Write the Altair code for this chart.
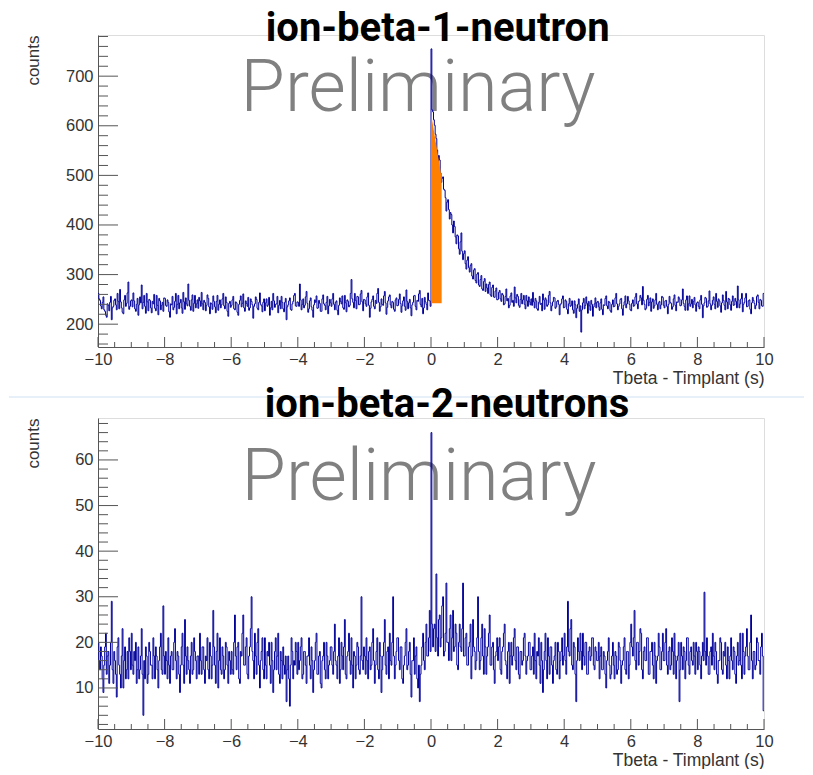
import altair as alt
import pandas as pd

BIN_WIDTH = 0.025
X_MIN, X_MAX = -10.0, 10.0

# ion-beta-1-neutron histogram, 800 bins of 0.025 s from -10 to 10 s
top_counts = [
    262, 251, 248, 237, 231, 244, 255, 229, 226, 218, 214, 241, 238, 227, 244, 256, 209, 233, 236, 248,
    251, 239, 229, 262, 246, 231, 270, 245, 233, 224, 221, 249, 258, 236, 242, 263, 285, 230, 236, 247,
    249, 235, 263, 247, 231, 226, 240, 252, 218, 239, 255, 243, 279, 231, 244, 258, 236, 222, 262, 245,
    227, 250, 248, 233, 223, 246, 241, 260, 232, 227, 258, 238, 219, 252, 247, 229, 238, 244, 226, 253,
    252, 238, 236, 249, 244, 225, 214, 241, 239, 256, 229, 234, 246, 262, 221, 240, 258, 231, 243, 250,
    233, 222, 264, 245, 230, 253, 241, 237, 281, 248, 236, 228, 249, 259, 226, 242, 258, 233, 241, 249,
    232, 254, 247, 236, 264, 241, 229, 248, 244, 227, 238, 259, 252, 235, 221, 243, 241, 230, 257, 246,
    235, 223, 246, 258, 228, 240, 249, 233, 239, 251, 262, 237, 231, 255, 244, 226, 216, 242, 246, 234,
    238, 249, 256, 231, 229, 245, 243, 224, 218, 240, 248, 257, 235, 242, 261, 233, 226, 247, 242, 236,
    254, 228, 233, 251, 246, 239, 212, 236, 241, 255, 250, 232, 229, 244, 263, 240, 237, 225, 244, 251,
    227, 243, 251, 236, 239, 254, 218, 233, 246, 229, 262, 247, 234, 240, 241, 256, 223, 238, 248, 231,
    256, 244, 231, 225, 244, 252, 209, 235, 239, 247, 253, 230, 228, 241, 246, 258, 262, 237, 236, 245,
    244, 236, 281, 249, 229, 240, 251, 233, 238, 255, 266, 242, 224, 231, 247, 253, 235, 228, 214, 239,
    249, 244, 257, 232, 233, 248, 242, 226, 226, 251, 259, 241, 238, 229, 244, 256, 221, 237, 250, 243,
    236, 251, 262, 240, 229, 244, 247, 228, 219, 238, 253, 246, 241, 257, 233, 230, 258, 243, 225, 249,
    246, 235, 238, 262, 290, 251, 244, 233, 262, 248, 231, 256, 255, 239, 240, 261, 268, 245, 227, 250,
    249, 241, 236, 255, 263, 238, 214, 232, 245, 250, 257, 236, 231, 248, 242, 262, 272, 244, 226, 235,
    251, 240, 238, 257, 266, 243, 220, 234, 247, 255, 259, 239, 233, 246, 244, 230, 226, 249, 253, 237,
    238, 250, 261, 242, 224, 237, 247, 255, 236, 228, 269, 246, 231, 243, 250, 233, 217, 239, 244, 257,
    258, 236, 229, 248, 246, 261, 268, 240, 235, 252, 221, 233, 254, 245, 240, 229, 263, 248, 247, 236,
    755, 632,
    628, 612, 601, 583, 574, 551, 522, 540, 531, 505, 486, 494, 497, 472, 470, 455, 428, 446, 451, 431,
    412, 425, 421, 400, 384, 408, 397, 376, 362, 380, 378, 352, 341, 366, 384, 347, 330, 342, 348, 322,
    311, 329, 336, 314, 305, 318, 322, 297, 291, 309, 312, 288, 283, 301, 304, 279, 276, 290, 298, 271,
    268, 286, 292, 266, 281, 273, 262, 280, 285, 259, 256, 274, 279, 255, 254, 267, 273, 249, 250, 264,
    268, 251, 246, 262, 259, 239, 241, 256, 271, 247, 252, 233, 238, 257, 263, 244, 248, 236, 275, 253,
    243, 260, 256, 238, 234, 250, 262, 241, 249, 258, 240, 231, 258, 247, 236, 255, 245, 239,
    251, 238, 264, 245, 233, 252, 247, 231, 228, 244, 256, 240, 242, 227, 261, 249, 230, 253, 249, 236,
    239, 258, 266, 243, 227, 237, 245, 254, 253, 232, 235, 246, 248, 240, 219, 239, 242, 251, 257, 233,
    234, 249, 246, 230, 221, 241, 252, 236, 238, 247, 229, 222, 247, 239, 213, 232, 240, 251, 226, 237,
    184, 229, 243, 252, 231, 238, 255, 242, 222, 246, 237, 228, 248, 240, 216, 235, 241, 253, 233, 244,
    246, 235, 228, 243, 251, 230, 219, 239, 238, 252, 257, 237, 231, 246, 244, 227, 224, 240, 249, 235,
    236, 253, 262, 241, 229, 236, 241, 250, 252, 231, 218, 238, 245, 257, 233, 241, 256, 247, 240, 229,
    227, 242, 249, 236, 238, 255, 262, 241, 231, 246, 247, 258, 253, 239, 276, 248, 240, 229, 232, 250,
    258, 237, 244, 253, 226, 245, 251, 232, 237, 249, 262, 240, 229, 243, 246, 231, 239, 256, 254, 238,
    233, 247, 248, 236, 221, 240, 256, 244, 242, 230, 235, 251, 259, 238, 227, 245, 244, 255, 251, 237,
    238, 249, 271, 242, 236, 228, 249, 257, 228, 241, 257, 236, 241, 250, 233, 246, 254, 239, 226, 243,
    245, 236, 231, 249, 258, 240, 213, 237, 243, 254, 252, 234, 236, 247, 267, 241, 229, 238, 248, 255,
    240, 231, 262, 246, 234, 251, 247, 237, 224, 243, 259, 248, 238, 229, 266, 245, 231, 252, 250, 239,
    228, 246, 257, 238, 239, 252, 246, 233, 277, 249, 233, 241, 251, 262, 225, 240, 244, 253, 262, 235,
    236, 247, 249, 230, 221, 243, 254, 248, 242, 231, 238, 256, 259, 244, 231, 250, 248, 237, 236, 262,
]

# ion-beta-2-neutrons histogram, same binning
bottom_counts = [
    20, 16, 14, 19, 17, 12, 9, 15, 19, 22, 13, 17, 18, 11, 15, 20, 29, 14, 11, 18,
    16, 13, 8, 19, 21, 15, 13, 10, 17, 23, 10, 16, 19, 12, 14, 18, 12, 21, 18, 14,
    22, 15, 13, 18, 16, 20, 11, 14, 19, 12, 14, 17, 23, 13, 4, 16, 12, 19, 17, 11,
    13, 20, 18, 15, 15, 12, 21, 17, 12, 19, 17, 14, 10, 16, 19, 22, 14, 13, 28, 17,
    13, 18, 16, 12, 21, 15, 11, 17, 18, 14, 14, 20, 23, 16, 12, 18, 17, 13, 9, 15,
    19, 22, 15, 11, 25, 17, 13, 19, 16, 14, 11, 17, 20, 13, 14, 21, 18, 16, 12, 17,
    17, 13, 22, 16, 13, 19, 19, 14, 11, 17, 16, 21, 14, 12, 20, 17, 12, 15, 27, 19,
    15, 11, 18, 22, 10, 16, 21, 14, 13, 19, 17, 12, 14, 20, 19, 15, 11, 18, 16, 13,
    18, 14, 13, 20, 26, 17, 14, 19, 20, 12, 11, 18, 17, 22, 26, 15, 15, 19, 21, 13,
    12, 17, 19, 23, 30, 18, 16, 12, 22, 17, 13, 20, 23, 15, 10, 16, 18, 21, 14, 12,
    21, 15, 12, 18, 17, 20, 15, 11, 20, 16, 9, 14, 18, 21, 14, 17, 22, 13, 11, 18,
    16, 12, 19, 15, 13, 17, 7, 14, 17, 12, 6, 15, 21, 18, 12, 16, 15, 20, 18, 13,
    20, 14, 16, 19, 21, 12, 13, 18, 18, 15, 11, 17, 17, 21, 15, 12, 19, 16, 9, 14,
    16, 20, 22, 13, 13, 17, 18, 11, 10, 16, 17, 20, 14, 12, 20, 17, 12, 15, 16, 19,
    19, 15, 13, 18, 24, 16, 15, 12, 17, 21, 11, 14, 20, 17, 14, 19, 25, 13, 12, 17,
    18, 22, 16, 13, 21, 15, 10, 18, 17, 12, 15, 20, 19, 14, 13, 17, 30, 16, 14, 19,
    17, 13, 21, 16, 12, 18, 19, 14, 15, 20, 23, 16, 11, 15, 18, 21, 14, 12, 20, 17,
    9, 14, 17, 20, 25, 15, 13, 18, 19, 12, 22, 16, 15, 20, 30, 17, 12, 15, 18, 21,
    21, 16, 14, 19, 19, 12, 11, 15, 17, 20, 23, 14, 15, 18, 20, 13, 8, 16, 16, 21,
    13, 17, 19, 12, 10, 15, 7, 13, 15, 19, 22, 16, 14, 20, 24, 17, 17, 21, 27, 18,
    66, 24,
    19, 23, 24, 18, 35, 21, 17, 25, 26, 19, 21, 28, 30, 17, 18, 22, 33, 20, 20, 16,
    23, 26, 16, 21, 27, 18, 19, 24, 22, 15, 14, 20, 24, 19, 18, 23, 33, 17,
    17, 21, 22, 15, 15, 19, 20, 24, 12, 17, 25, 19, 18, 14, 16, 21, 30, 18, 14, 16,
    21, 24, 17, 13, 23, 19, 13, 17, 19, 22, 26, 15, 15, 19, 20, 14, 11, 17, 18, 21,
    16, 19, 21, 14, 13, 18, 19, 22, 24, 16, 15, 12, 18, 20, 11, 17, 20, 15, 17, 21,
    23, 16, 14, 19, 19, 13, 12, 18, 18, 15, 16, 21, 22, 17, 13, 16, 17, 20, 20, 14,
    14, 17, 19, 13, 22, 16, 12, 18, 17, 21, 15, 11, 20, 16, 9, 14, 18, 22, 16, 12,
    21, 17, 13, 19, 19, 15, 11, 16, 17, 20, 14, 13, 20, 18, 12, 16, 18, 21, 15, 17,
    22, 16, 13, 19, 29, 18, 17, 23, 25, 15, 14, 20, 19, 13, 7, 16, 21, 18, 16, 22,
    18, 14, 22, 17, 15, 20, 20, 13, 13, 18, 19, 16, 17, 21, 21, 15, 14, 19, 18, 16,
    16, 20, 12, 17, 19, 14, 14, 18, 17, 13, 10, 16, 18, 21, 15, 12, 13, 17, 20, 15,
    12, 18, 17, 13, 14, 20, 19, 16, 11, 15, 16, 19, 21, 14, 13, 18, 18, 12, 15, 20,
    24, 19, 17, 21, 27, 16, 14, 20, 20, 15, 18, 23, 22, 14, 12, 18, 19, 16, 16, 21,
    21, 13, 13, 18, 18, 20, 15, 12, 20, 17, 11, 16, 17, 22, 19, 14, 14, 18, 22, 16,
    16, 20, 23, 15, 13, 18, 19, 14, 15, 21, 18, 13, 22, 17, 12, 16, 17, 20, 7, 14,
    20, 17, 14, 19, 18, 12, 16, 21, 21, 15, 13, 18, 19, 16, 15, 20, 17, 13, 20, 18,
    14, 19, 18, 15, 12, 17, 20, 16, 31, 18, 15, 21, 17, 13, 13, 18, 19, 15, 22, 17,
    14, 20, 18, 13, 11, 16, 16, 21, 20, 14, 13, 18, 17, 20, 15, 12, 19, 16, 12, 17,
    21, 16, 14, 19, 18, 13, 11, 17, 20, 15, 16, 22, 15, 12, 22, 18, 13, 17, 19, 23,
    17, 14, 14, 20, 26, 16, 12, 18, 18, 14, 15, 21, 20, 16, 16, 13, 19, 22, 17, 5,
]

# orange highlighted region under the fitted decay (top panel)
fit_time = [0.0, 0.32]
fit_top = [625, 495]
fit_base = [242, 242]

# axis ticks
x_major = [-10, -8, -6, -4, -2, 0, 2, 4, 6, 8, 10]
x_minor = [-9.5, -9, -8.5, -7.5, -7, -6.5, -5.5, -5, -4.5, -3.5, -3, -2.5, -1.5, -1, -0.5,
           0.5, 1, 1.5, 2.5, 3, 3.5, 4.5, 5, 5.5, 6.5, 7, 7.5, 8.5, 9, 9.5]
top_y_major = [200, 300, 400, 500, 600, 700]
top_y_minor = [160, 180, 220, 240, 260, 280, 320, 340, 360, 380, 420, 440, 460, 480,
               520, 540, 560, 580, 620, 640, 660, 680, 720, 740, 760, 780]
bot_y_major = [10, 20, 30, 40, 50, 60]
bot_y_minor = [2, 4, 6, 8, 12, 14, 16, 18, 22, 24, 26, 28, 32, 34, 36, 38, 42, 44, 46, 48,
               52, 54, 56, 58, 62, 64, 66, 68]

W = 666
LINE = "#000099"
AXC = "#555555"
TXT = "#333333"
LABEL_FONT = "Liberation Sans, Arial, sans-serif"
TITLE_FONT = "Roboto, Liberation Sans, sans-serif"


def hist_frame(counts):
    edges = [X_MIN + i * BIN_WIDTH for i in range(len(counts))] + [X_MAX]
    return pd.DataFrame({"t": edges, "c": list(counts) + [counts[-1]]})


def panel(counts, ydom, y_major, y_minor, H, title, title_pos, prelim_pos, extra=None):
    xs = alt.Scale(domain=[X_MIN, X_MAX], nice=False, zero=False)
    ys = alt.Scale(domain=ydom, nice=False, zero=False)

    xaxis = alt.Axis(values=x_major, format="d", ticks=False, grid=False, labelFlush=False,
                     labelFont=LABEL_FONT, labelFontSize=16.5, labelColor=TXT, labelPadding=4,
                     domainColor=AXC, title="Tbeta - Timplant (s)", titleFont=LABEL_FONT,
                     titleFontSize=17.5, titleFontWeight="normal", titleColor=TXT,
                     titleAlign="right", titleBaseline="top", titleX=W, titleY=22)
    yaxis = alt.Axis(values=y_major, format="d", ticks=False, grid=False,
                     labelFont=LABEL_FONT, labelFontSize=16.5, labelColor=TXT, labelPadding=5,
                     domainColor=AXC, title="counts", titleFont=LABEL_FONT, titleFontSize=17,
                     titleFontWeight="normal", titleColor=TXT, titleAngle=270,
                     titleAlign="right", titleBaseline="middle", titleX=-65, titleY=0)

    def X(f):
        return alt.X(f, type="quantitative", scale=xs, axis=xaxis)

    def Y(f):
        return alt.Y(f, type="quantitative", scale=ys, axis=yaxis)

    prelim = alt.Chart(pd.DataFrame({"t": [prelim_pos[0]], "c": [prelim_pos[1]], "s": ["Preliminary"]})).mark_text(
        font=TITLE_FONT, fontSize=72, fontWeight=300, color="#808080", align="center", baseline="alphabetic"
    ).encode(x=X("t"), y=Y("c"), text="s:N")

    hist = alt.Chart(hist_frame(counts)).mark_line(
        interpolate="step-after", color=LINE, strokeWidth=1, clip=True
    ).encode(x=X("t"), y=Y("c"))

    ymaj = alt.Chart(pd.DataFrame({"v": y_major})).mark_rule(color=AXC, strokeWidth=1).encode(
        y=Y("v"), x=alt.value(0), x2=alt.value(20))
    ymin = alt.Chart(pd.DataFrame({"v": y_minor})).mark_rule(color=AXC, strokeWidth=1).encode(
        y=Y("v"), x=alt.value(0), x2=alt.value(10))
    xmaj = alt.Chart(pd.DataFrame({"v": x_major})).mark_rule(color=AXC, strokeWidth=1).encode(
        x=X("v"), y=alt.value(H), y2=alt.value(H - 10))
    xmin = alt.Chart(pd.DataFrame({"v": x_minor})).mark_rule(color=AXC, strokeWidth=1).encode(
        x=X("v"), y=alt.value(H), y2=alt.value(H - 5))

    ttl = alt.Chart(pd.DataFrame({"t": [title_pos[0]], "c": [title_pos[1]], "s": [title]})).mark_text(
        font=TITLE_FONT, fontSize=40, fontWeight="bold", color="#000000", align="center", baseline="alphabetic"
    ).encode(x=X("t"), y=Y("c"), text="s:N")

    layers = [prelim, hist]
    if extra is not None:
        layers.append(extra(X, Y))
    layers += [ymaj, ymin, xmaj, xmin, ttl]
    return alt.layer(*layers).properties(width=W, height=H)


def orange_fit(X, Y):
    df = pd.DataFrame({"t": fit_time, "top": fit_top, "base": fit_base})
    return alt.Chart(df).mark_area(color="#ff7f00", opacity=1).encode(
        x=X("t"), y=Y("top"), y2="base:Q")


def separator(X, Y):
    return alt.Chart(pd.DataFrame({"k": [0]})).mark_rule(color="#cfe0f3", strokeWidth=1).encode(
        x=alt.value(-89), x2=alt.value(706), y=alt.value(-21))


top = panel(top_counts, [154, 783], top_y_major, top_y_minor, 312,
            "ion-beta-1-neutron", (0.2, 770), (-0.39, 629), extra=orange_fit)
bottom = panel(bottom_counts, [1, 69.2], bot_y_major, bot_y_minor, 311,
               "ion-beta-2-neutrons", (0.48, 69.4), (-0.36, 51.2), extra=separator)

chart = alt.vconcat(top, bottom, spacing=71, bounds="flush").properties(
    padding={"left": 0, "top": 0, "right": 0, "bottom": 0}
).configure_view(stroke="#777777", strokeWidth=1).configure(background="white")

chart.save("out.html", embed_options={"renderer": "svg", "actions": False})
